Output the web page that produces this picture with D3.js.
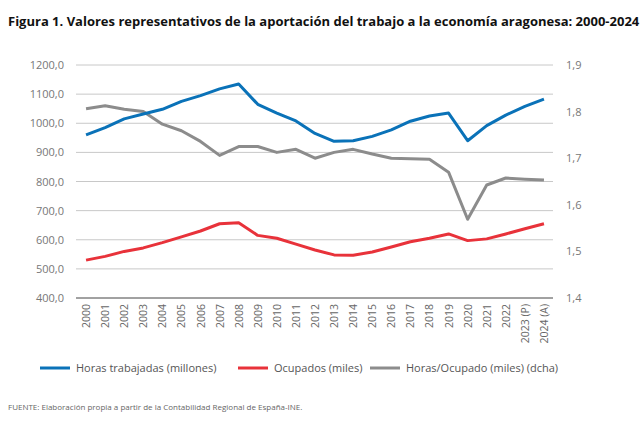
<!DOCTYPE html>
<html><head><meta charset="utf-8">
<script src="https://cdn.jsdelivr.net/npm/d3@7"></script>
<style>body{margin:0;background:#fff;font-family:"Open Sans",sans-serif}</style>
</head><body><svg id="c" width="642" height="425"></svg>
<script>
const years = ["2000","2001","2002","2003","2004","2005","2006","2007","2008","2009","2010","2011","2012","2013","2014","2015","2016","2017","2018","2019","2020","2021","2022","2023 (P)","2024 (A)"];
const horas = [960,985,1015,1032,1048,1075,1095,1118,1135,1065,1035,1008,965,938,940,955,977,1007,1025,1035,940,992,1028,1058,1083];
const ocupados = [530,543,560,572,590,610,630,655,658,615,605,585,565,548,547,558,575,593,605,620,597,603,620,638,655];
const horasOcupado = [1.806,1.8125,1.805,1.80,1.773,1.759,1.736,1.706,1.725,1.725,1.7125,1.719,1.70,1.7125,1.719,1.709,1.70,1.699,1.6975,1.67,1.569,1.6425,1.6575,1.655,1.653];
const leftTicks = [400,500,600,700,800,900,1000,1100,1200];
const rightTicks = [1.4,1.5,1.6,1.7,1.8,1.9];

const svg = d3.select("#c");
const x = d3.scaleBand().domain(years).range([76.5, 553.5]);
const yL = d3.scaleLinear().domain([400, 1200]).range([298, 65]);
const yR = d3.scaleLinear().domain([1.4, 1.9]).range([298, 65]);
const fmt = d => d3.format(".1f")(d).replace(".", ",");

svg.append("text").attr("x", 8).attr("y", 26).attr("font-size", 13).attr("font-weight", "bold")
  .attr("fill", "#111").text("Figura 1. Valores representativos de la aportación del trabajo a la economía aragonesa: 2000-2024");

// grid
svg.append("g").selectAll("line").data(leftTicks).join("line")
  .attr("x1", 76).attr("x2", 553).attr("y1", d => yL(d)).attr("y2", d => yL(d))
  .attr("stroke", d => d === 400 ? "#444" : "#c8c8c8").attr("stroke-width", 1);

svg.append("g").selectAll("text").data(leftTicks).join("text")
  .attr("x", 64).attr("y", d => yL(d) + 4).attr("text-anchor", "end")
  .attr("font-size", 11).attr("fill", "#777").text(fmt);
svg.append("g").selectAll("text").data(rightTicks).join("text")
  .attr("x", 566).attr("y", d => yR(d) + 4)
  .attr("font-size", 11).attr("fill", "#777").text(d => String(d).replace(".", ","));

svg.append("g").selectAll("text").data(years).join("text")
  .attr("transform", d => `translate(${x(d) + x.bandwidth() / 2 + 4},304) rotate(-90)`)
  .attr("text-anchor", "end").attr("font-size", 10.5).attr("fill", "#666").text(d => d);

const cx = (d, i) => x(years[i]) + x.bandwidth() / 2;
const series = [
  {data: horasOcupado, y: yR, color: "#8c8c8c"},
  {data: horas, y: yL, color: "#0a72b8"},
  {data: ocupados, y: yL, color: "#e8323a"}
];
series.forEach(s => {
  svg.append("path").attr("fill", "none").attr("stroke", s.color).attr("stroke-width", 3)
    .attr("stroke-linejoin", "round")
    .attr("d", d3.line().x(cx).y(d => s.y(d))(s.data));
});

const legend = [
  {label: "Horas trabajadas (millones)", color: "#0a72b8", x: 40},
  {label: "Ocupados (miles)", color: "#e8323a", x: 238},
  {label: "Horas/Ocupado (miles) (dcha)", color: "#8c8c8c", x: 370}
];
const lg = svg.append("g").selectAll("g").data(legend).join("g").attr("transform", d => `translate(${d.x},368)`);
lg.append("line").attr("x1", 0).attr("x2", 30).attr("stroke", d => d.color).attr("stroke-width", 3);
lg.append("text").attr("x", 36).attr("y", 4).attr("font-size", 11).attr("fill", "#555").text(d => d.label);

svg.append("text").attr("x", 8).attr("y", 410).attr("font-size", 8).attr("fill", "#666")
  .text("FUENTE: Elaboración propia a partir de la Contabilidad Regional de España-INE.");
</script></body></html>
